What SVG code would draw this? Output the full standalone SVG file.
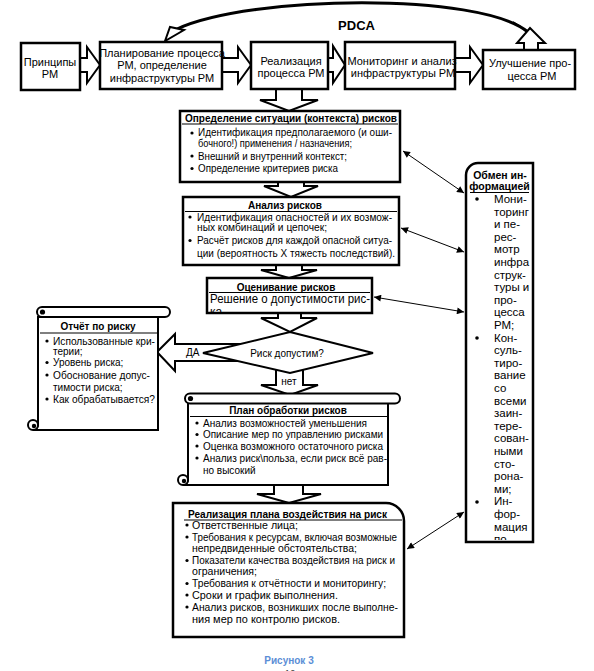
<svg xmlns="http://www.w3.org/2000/svg" width="594" height="671" viewBox="0 0 594 671">
<style>
text{font-family:"Liberation Sans",Arial,sans-serif;fill:#000}
.t11{font-size:11px}
.t10{font-size:10px}
.b10{font-size:10px;font-weight:bold}
.mid{text-anchor:middle}
.box{fill:#fff;stroke:#000;stroke-width:2.5}
.scr{fill:#fff;stroke:#000;stroke-width:2}
.blk{fill:#fff;stroke:#000;stroke-width:2;stroke-linejoin:miter}
.ul{stroke:#000;stroke-width:1.2}
.thin{stroke:#000;stroke-width:1;fill:none;marker-start:url(#ah);marker-end:url(#ah)}
.dot{fill:#000}
</style>
<defs>
<marker id="ah" viewBox="0 0 10 10" refX="10" refY="5" markerWidth="8" markerHeight="7" markerUnits="userSpaceOnUse" orient="auto-start-reverse">
<path d="M0,0 L10,5 L0,10 Z" fill="#000"/>
</marker>
<clipPath id="cOc"><rect x="208" y="279" width="163" height="33"/></clipPath>
<clipPath id="cInfo"><rect x="467" y="164" width="65" height="376"/></clipPath>
</defs>
<rect width="594" height="671" fill="#fff"/>

<g id="connectors">
<!-- PDCA curved arrow -->
<path d="M528,32 C480,-8 250,-5 177,29" fill="none" stroke="#000" stroke-width="3"/>
<path d="M513,22 C520,26 527,31 533,38" fill="none" stroke="#000" stroke-width="1.5"/>
<polygon class="blk" points="165,41 170,27 184,30"/>
<polygon class="blk" points="524,50 524,43 517,43 530,28 545,43 538,43 538,50"/>
<!-- top horizontal block arrows -->
<polygon class="blk" points="80,58 87,58 87,47 100,65 87,83 87,72 80,72"/>
<polygon class="blk" points="222,58 238,58 238,47 251,65 238,83 238,72 222,72"/>
<polygon class="blk" points="328,58 333,58 333,46 345,65 333,83 333,72 328,72"/>
<polygon class="blk" points="455,58 470,58 470,47 483,65 470,83 470,72 455,72"/>
<!-- down block arrows -->
<polygon class="blk" points="276,89 302,89 302,100 318,100 289,111 260,100 276,100"/>
<polygon class="blk" points="278,182 304,182 304,186 318,186 291,197 264,186 278,186"/>
<polygon class="blk" points="276,265 302,265 302,270 317,270 289,278 261,270 276,270"/>
<polygon class="blk" points="278,313 301,313 301,318 317,318 290,332 261,318 278,318"/>
<polygon class="blk" points="276,362 303,362 303,385 318,385 290,395 261,385 276,385"/>
<polygon class="blk" points="274,485 303,485 303,494 321,494 289,503 257,494 274,494"/>
<!-- ДА arrow -->
<polygon class="blk" points="157,352 175,334 175,344 255,344 255,361 175,361 175,371"/>
<text class="t10" x="186" y="356">ДА</text>
<text class="t10 mid" x="289" y="384.5">нет</text>
<!-- thin info arrows -->
<line class="thin" x1="403" y1="151" x2="464" y2="193"/>
<line class="thin" x1="401" y1="228" x2="464" y2="252"/>
<line class="thin" x1="374" y1="297" x2="464" y2="312"/>
<line class="thin" x1="407" y1="549" x2="464" y2="512"/>
</g>

<text x="356.5" y="30" class="mid" style="font-size:13px;font-weight:bold">PDCA</text>

<g id="principles">
<rect class="box" x="21" y="43" width="59" height="47"/>
<text class="t11 mid" x="50" y="66">Принципы</text>
<text class="t11 mid" x="50" y="78">РМ</text>
</g>
<g id="planning">
<rect class="box" x="100" y="42" width="122" height="47"/>
<text class="t11 mid" x="162" y="57">Планирование процесса</text>
<text class="t11 mid" x="162" y="69">РМ, определение</text>
<text class="t11 mid" x="162" y="82">инфраструктуры РМ</text>
</g>
<g id="implementation">
<rect class="box" x="251" y="42" width="77" height="47"/>
<text class="t11 mid" x="291" y="65">Реализация</text>
<text class="t11 mid" x="291" y="77">процесса РМ</text>
</g>
<g id="monitoring">
<rect class="box" x="345" y="42" width="110" height="47"/>
<text class="t11 mid" x="402" y="65">Мониторинг и анализ</text>
<text class="t11 mid" x="403" y="77">инфраструктуры РМ</text>
</g>
<g id="improvement">
<rect class="box" x="483" y="50" width="92" height="39"/>
<text class="t11 mid" x="530" y="67">Улучшение про-</text>
<text class="t11 mid" x="532" y="80">цесса РМ</text>
</g>

<g id="context">
<rect class="box" x="180" y="111" width="220" height="71"/>
<text class="b10" x="185" y="121.5" textLength="212" lengthAdjust="spacingAndGlyphs">Определение ситуации (контекста) рисков</text>
<line class="ul" x1="182" y1="124" x2="398" y2="124"/>
<circle class="dot" cx="192" cy="133" r="1.6"/>
<text class="t10" x="198" y="136" textLength="194" lengthAdjust="spacingAndGlyphs">Идентификация предполагаемого (и оши-</text>
<text class="t10" x="198" y="146.5" textLength="154" lengthAdjust="spacingAndGlyphs">бочного!) применения / назначения;</text>
<circle class="dot" cx="192" cy="156" r="1.6"/>
<text class="t10" x="198" y="159.5" textLength="149" lengthAdjust="spacingAndGlyphs">Внешний и внутренний контекст;</text>
<circle class="dot" cx="192" cy="168.5" r="1.6"/>
<text class="t10" x="198" y="172" textLength="140" lengthAdjust="spacingAndGlyphs">Определение критериев риска</text>
</g>

<g id="analysis">
<rect class="box" x="183" y="197" width="216" height="68"/>
<text class="b10 mid" x="285" y="208.5">Анализ рисков</text>
<line class="ul" x1="185" y1="211.5" x2="397" y2="211.5"/>
<circle class="dot" cx="190" cy="217" r="1.6"/>
<text class="t10" x="197" y="220.5" textLength="195" lengthAdjust="spacingAndGlyphs">Идентификация опасностей и их возмож-</text>
<text class="t10" x="197" y="230.5" textLength="130" lengthAdjust="spacingAndGlyphs">ных комбинаций и цепочек;</text>
<circle class="dot" cx="190" cy="240.5" r="1.6"/>
<text class="t10" x="197" y="244" textLength="195" lengthAdjust="spacingAndGlyphs">Расчёт рисков для каждой опасной ситуа-</text>
<text class="t10" x="197" y="257" textLength="198" lengthAdjust="spacingAndGlyphs">ции (вероятность Х тяжесть последствий).</text>
</g>

<g id="evaluation">
<rect class="box" x="207" y="278" width="165" height="35"/>
<text class="b10 mid" x="286" y="290.5">Оценивание рисков</text>
<line class="ul" x1="209" y1="292.5" x2="370" y2="292.5"/>
<g clip-path="url(#cOc)">
<text x="210" y="303" style="font-size:12px" textLength="160" lengthAdjust="spacingAndGlyphs">Решение о допустимости рис-</text>
<text x="210" y="316" style="font-size:12px">ка</text>
</g>
</g>

<g id="decision">
<polygon points="290,332 373,353 290,373 203,353" fill="#fff" stroke="#000" stroke-width="2"/>
<text class="t10 mid" x="287" y="356.5">Риск допустим?</text>
</g>

<g id="report">
<path class="scr" d="M38,317 V425 A5,5 0 0 1 33,430 H158 V317 Z"/>
<circle cx="33" cy="425" r="5" class="scr"/>
<circle cx="34" cy="426" r="2.2" fill="#000"/>
<rect class="scr" x="37" y="307" width="133" height="10" rx="5"/>
<circle cx="42.5" cy="312" r="2.6" fill="#000"/>
<text class="b10 mid" x="98" y="330">Отчёт по риску</text>
<line class="ul" x1="40" y1="333" x2="157" y2="333"/>
<circle class="dot" cx="47" cy="341" r="1.6"/>
<text class="t10" x="53" y="344.5" textLength="102" lengthAdjust="spacingAndGlyphs">Использованные кри-</text>
<text class="t10" x="53" y="354.5">терии;</text>
<circle class="dot" cx="47" cy="362.5" r="1.6"/>
<text class="t10" x="53" y="366">Уровень риска;</text>
<circle class="dot" cx="47" cy="375" r="1.6"/>
<text class="t10" x="53" y="378.5" textLength="97" lengthAdjust="spacingAndGlyphs">Обоснование допус-</text>
<text class="t10" x="53" y="390.5">тимости риска;</text>
<circle class="dot" cx="47" cy="399" r="1.6"/>
<text class="t10" x="53" y="402.5" textLength="102" lengthAdjust="spacingAndGlyphs">Как обрабатывается?</text>
</g>

<g id="treatment">
<path class="scr" d="M188,403 V480 A5,5 0 0 1 183,485 H388 V403 Z"/>
<circle cx="183" cy="480" r="5" class="scr"/>
<circle cx="184" cy="481" r="2.2" fill="#000"/>
<rect class="scr" x="185" y="393.5" width="215" height="10" rx="5"/>
<circle cx="190.5" cy="398.5" r="2.6" fill="#000"/>
<text class="b10 mid" x="288" y="413.5">План обработки рисков</text>
<line class="ul" x1="190" y1="416.5" x2="387" y2="416.5"/>
<circle class="dot" cx="197" cy="423" r="1.6"/>
<text class="t10" x="203" y="426.5" textLength="164" lengthAdjust="spacingAndGlyphs">Анализ возможностей уменьшения</text>
<circle class="dot" cx="197" cy="434.5" r="1.6"/>
<text class="t10" x="203" y="438" textLength="180" lengthAdjust="spacingAndGlyphs">Описание мер по управлению рисками</text>
<circle class="dot" cx="197" cy="446" r="1.6"/>
<text class="t10" x="203" y="449.5" textLength="180" lengthAdjust="spacingAndGlyphs">Оценка возможного остаточного риска</text>
<circle class="dot" cx="197" cy="458" r="1.6"/>
<text class="t10" x="203" y="461.5" textLength="184" lengthAdjust="spacingAndGlyphs">Анализ риск\польза, если риск всё рав-</text>
<text class="t10" x="203" y="473.5">но высокий</text>
</g>

<g id="execution">
<path class="box" d="M173,503 H386 A18,18 0 0 1 404,521 V637 H173 Z"/>
<text class="b10" x="188" y="517.5" textLength="199" lengthAdjust="spacingAndGlyphs">Реализация плана воздействия на риск</text>
<line class="ul" x1="184" y1="520" x2="402" y2="520"/>
<circle class="dot" cx="187" cy="525" r="1.6"/>
<text class="t10" x="192" y="528.5" textLength="106" lengthAdjust="spacingAndGlyphs">Ответственные лица;</text>
<circle class="dot" cx="187" cy="537" r="1.6"/>
<text class="t10" x="192" y="540.5" textLength="205" lengthAdjust="spacingAndGlyphs">Требования к ресурсам, включая возможные</text>
<text class="t10" x="192" y="552" textLength="165" lengthAdjust="spacingAndGlyphs">непредвиденные обстоятельства;</text>
<circle class="dot" cx="187" cy="560.5" r="1.6"/>
<text class="t10" x="192" y="564" textLength="203" lengthAdjust="spacingAndGlyphs">Показатели качества воздействия на риск и</text>
<text class="t10" x="192" y="575" textLength="65" lengthAdjust="spacingAndGlyphs">ограничения;</text>
<circle class="dot" cx="187" cy="583.5" r="1.6"/>
<text class="t10" x="192" y="587" textLength="194" lengthAdjust="spacingAndGlyphs">Требования к отчётности и мониторингу;</text>
<circle class="dot" cx="187" cy="595" r="1.6"/>
<text class="t10" x="192" y="598.5" textLength="146" lengthAdjust="spacingAndGlyphs">Сроки и график выполнения.</text>
<circle class="dot" cx="187" cy="607" r="1.6"/>
<text class="t10" x="192" y="610.5" textLength="206" lengthAdjust="spacingAndGlyphs">Анализ рисков, возникших после выполне-</text>
<text class="t10" x="192" y="622.5" textLength="148" lengthAdjust="spacingAndGlyphs">ния мер по контролю рисков.</text>
</g>

<g id="communication">
<path class="box" d="M466,542 V175 A12,12 0 0 1 478,163 H533 V542 Z"/>
<text class="mid" x="500" y="179" style="font-size:10.5px;font-weight:bold">Обмен ин-</text>
<text class="mid" x="499.5" y="190" style="font-size:10.5px;font-weight:bold">формацией</text>
<line class="ul" x1="470" y1="192.5" x2="529" y2="192.5"/>
<g clip-path="url(#cInfo)" style="font-size:11.5px">
<circle class="dot" cx="477" cy="199" r="1.8"/>
<text x="494" y="203">Мони-</text>
<text x="494" y="215.6">торинг</text>
<text x="494" y="228.2">и пе-</text>
<text x="494" y="240.8">рес-</text>
<text x="494" y="253.4">мотр</text>
<text x="494" y="266">инфра</text>
<text x="494" y="278.6">струк-</text>
<text x="494" y="291.2">туры и</text>
<text x="494" y="303.8">про-</text>
<text x="494" y="316.4">цесса</text>
<text x="494" y="329">РМ;</text>
<circle class="dot" cx="477" cy="338" r="1.8"/>
<text x="494" y="341.6">Кон-</text>
<text x="494" y="354.2">суль-</text>
<text x="494" y="366.8">тиро-</text>
<text x="494" y="379.4">вание</text>
<text x="494" y="392">со</text>
<text x="494" y="404.6">всеми</text>
<text x="494" y="417.2">заин-</text>
<text x="494" y="429.8">тере-</text>
<text x="494" y="442.4">сован-</text>
<text x="494" y="455">ными</text>
<text x="494" y="467.6">сто-</text>
<text x="494" y="480.2">рона-</text>
<text x="494" y="492.8">ми;</text>
<circle class="dot" cx="477" cy="502" r="1.8"/>
<text x="494" y="505.4">Ин-</text>
<text x="494" y="518">фор-</text>
<text x="494" y="530.6">мация</text>
<text x="494" y="543.2">по</text>
</g>
</g>

<text class="mid" x="289" y="664" style="font-size:10px;font-weight:bold;fill:#5b8ed6">Рисунок 3</text>
<text class="mid" x="290" y="678" style="font-size:10px;fill:#444">10</text>
</svg>
